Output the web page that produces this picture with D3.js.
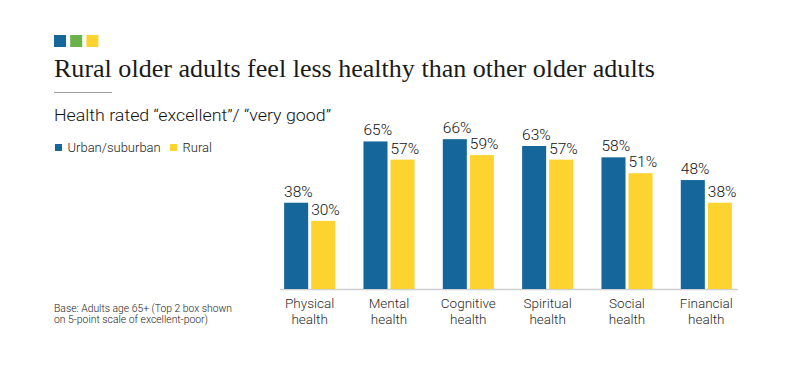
<!DOCTYPE html>
<html>
<head>
<meta charset="utf-8">
<script src="https://cdn.jsdelivr.net/npm/d3@7"></script>
<style>
  html, body { margin: 0; padding: 0; background: #fff; }
  svg { display: block; }
</style>
</head>
<body>
<svg id="chart" width="800" height="379"></svg>
<script>
const categories = [["Physical", "health"], ["Mental", "health"], ["Cognitive", "health"], ["Spiritual", "health"], ["Social", "health"], ["Financial", "health"]];
const seriesNames = ["Urban/suburban", "Rural"];
const urbanValues = [38, 65, 66, 63, 58, 48];
const ruralValues = [30, 57, 59, 57, 51, 38];
const titleText = "Rural older adults feel less healthy than other older adults";
const subtitleText = "Health rated \u201cexcellent\u201d/ \u201cvery good\u201d";
const noteLines = ["Base: Adults age 65+ (Top 2 box shown", "on 5-point scale of excellent-poor)"];

const BLUE = "#15679b", YELLOW = "#fdd42f", GREEN = "#6cb24a";
const SANS = "Roboto, 'Liberation Sans', sans-serif";
const SERIF = "'Liberation Serif', 'DejaVu Serif', serif";
const W = 300;

const svg = d3.select("#chart");
const keys = categories.map(c => c.join(" "));
const data = keys.map((k, i) => ({ key: k, lines: categories[i], values: [urbanValues[i], ruralValues[i]] }));

// header squares
svg.selectAll("rect.logo").data([BLUE, GREEN, YELLOW]).join("rect")
  .attr("class", "logo")
  .attr("x", (d, i) => 54 + i * 16.2).attr("y", 35)
  .attr("width", 12).attr("height", 12).attr("fill", d => d);

svg.append("text").text(titleText)
  .attr("x", 54).attr("y", 77)
  .attr("font-family", SERIF).attr("font-size", 26).attr("fill", "#1a1a1a")
  .attr("textLength", 601).attr("lengthAdjust", "spacingAndGlyphs");

svg.append("line").attr("x1", 54).attr("x2", 112).attr("y1", 92.5).attr("y2", 92.5)
  .attr("stroke", "#9a9a9a").attr("stroke-width", 1.2);

svg.append("text").text(subtitleText)
  .attr("x", 54).attr("y", 121)
  .attr("font-family", SANS).attr("font-weight", W).attr("font-size", 16).attr("fill", "#111")
  .attr("textLength", 277).attr("lengthAdjust", "spacingAndGlyphs");

// legend
const legX = [55, 170];
const leg = svg.selectAll("g.leg").data(seriesNames).join("g").attr("class", "leg")
  .attr("transform", (d, i) => `translate(${legX[i]},0)`);
leg.append("rect").attr("x", 0).attr("y", 144).attr("width", 7).attr("height", 7)
  .attr("fill", (d, i) => i === 0 ? BLUE : YELLOW);
leg.append("text").text(d => d).attr("x", 12.5).attr("y", 151.5)
  .attr("font-family", SANS).attr("font-weight", W).attr("font-size", 13).attr("fill", "#222");

// footnote
const noteLen = [178, 154];
svg.selectAll("text.note").data(noteLines).join("text").attr("class", "note")
  .text(d => d).attr("x", 54).attr("y", (d, i) => 311.5 + i * 11.7)
  .attr("font-family", SANS).attr("font-weight", W).attr("font-size", 10).attr("fill", "#222")
  .attr("textLength", (d, i) => noteLen[i]).attr("lengthAdjust", "spacingAndGlyphs");

// scales
const x = d3.scaleBand().domain(keys).range([270, 746]).paddingInner(0.356).paddingOuter(0.178);
const xs = d3.scaleBand().domain([0, 1]).range([0, x.bandwidth()]).paddingInner(0.111);
const y = d3.scaleLinear().domain([0, 100]).range([289, 62]);

// axis baseline
svg.append("line")
  .attr("x1", x(keys[0]) - 4).attr("x2", x(keys[keys.length - 1]) + x.bandwidth() + 6)
  .attr("y1", y(0) + 0.5).attr("y2", y(0) + 0.5)
  .attr("stroke", "#cfcfcf").attr("stroke-width", 1.5);

const groups = svg.selectAll("g.grp").data(data).join("g").attr("class", "grp")
  .attr("transform", d => `translate(${x(d.key)},0)`);

groups.selectAll("rect").data(d => d.values).join("rect")
  .attr("x", (v, i) => xs(i)).attr("width", xs.bandwidth())
  .attr("y", v => y(v)).attr("height", v => y(0) - y(v))
  .attr("fill", (v, i) => i === 0 ? BLUE : YELLOW);

groups.selectAll("text.val").data(d => d.values).join("text").attr("class", "val")
  .text(v => v + "%")
  .attr("x", (v, i) => xs(i)).attr("y", v => y(v) - 6)
  .attr("font-family", SANS).attr("font-weight", W).attr("font-size", 15.5).attr("fill", "#111");

groups.selectAll("text.cat").data(d => d.lines).join("text").attr("class", "cat")
  .text(t => t)
  .attr("x", x.bandwidth() / 2).attr("y", (t, i) => 308 + i * 16)
  .attr("text-anchor", "middle")
  .attr("font-family", SANS).attr("font-weight", W).attr("font-size", 13.5).attr("fill", "#2a2a2a");
</script>
</body>
</html>
